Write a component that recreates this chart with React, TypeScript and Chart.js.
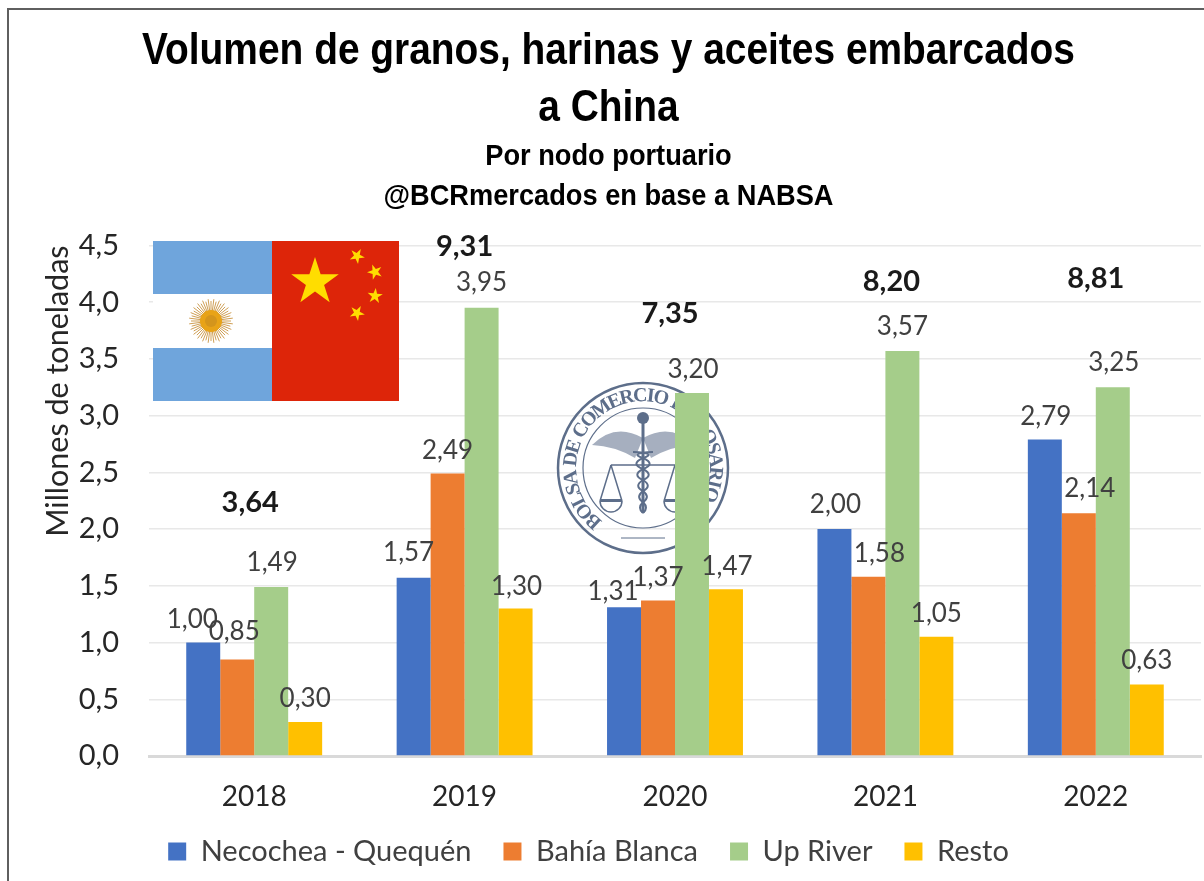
import React, { useEffect, useRef } from "react";
import { Chart, registerables } from "chart.js";

Chart.register(...registerables);

const years = ["2018", "2019", "2020", "2021", "2022"];
const necochea = [1.0, 1.57, 1.31, 2.0, 2.79];
const bahia = [0.85, 2.49, 1.37, 1.58, 2.14];
const upRiver = [1.49, 3.95, 3.2, 3.57, 3.25];
const resto = [0.3, 1.3, 1.47, 1.05, 0.63];
const totals = [3.64, 9.31, 7.35, 8.2, 8.81];
const totalLabelLevels = [2.23, 4.49, 3.9, 4.18, 4.21];
const titleLines = ["Volumen de granos, harinas y aceites embarcados", "a China"];
const subtitleLines = ["Por nodo portuario", "@BCRmercados en base a NABSA"];
const labelShiftX = [
  [-11, -5, -11, 1, 1],
  [-3, 0, 0, 11, 11],
  [1, 0, 1, 0, 1],
  [0, 1, 1, 0, 0],
];
const labelShiftY = [
  [0, -2, 7, -1, 0],
  [-5, 0, 0, 0, -2],
  [-1, -2, 0, -1, -2],
  [0, 1, 0, 0, -1],
];
const totalShiftX = [-4, 0, -5, 6, 0];

const comma = (v: number) => v.toFixed(2).replace(".", ",");
const LABEL = "Lato";
const HEAD = "'Liberation Sans'";

function star(ctx: CanvasRenderingContext2D, x: number, y: number, r: number, rot = 0) {
  ctx.beginPath();
  for (let i = 0; i < 10; i++) {
    const a = -Math.PI / 2 + rot + (i * Math.PI) / 5;
    const rr = i % 2 === 0 ? r : r * 0.382;
    ctx.lineTo(x + Math.cos(a) * rr, y + Math.sin(a) * rr);
  }
  ctx.closePath();
  ctx.fill();
}

function drawFlags(ctx: CanvasRenderingContext2D) {
  ctx.save();
  ctx.fillStyle = "#ffffff";
  ctx.fillRect(153, 241, 119, 160);
  ctx.fillStyle = "#6fa5dc";
  ctx.fillRect(153, 241, 119, 53);
  ctx.fillRect(153, 348, 119, 53);
  ctx.strokeStyle = "#cf9f55";
  ctx.lineWidth = 1;
  for (let i = 0; i < 48; i++) {
    const a = (i * Math.PI) / 24;
    const r = i % 2 ? 22 : 20;
    ctx.beginPath();
    ctx.moveTo(211 + Math.cos(a) * 10, 321 + Math.sin(a) * 10);
    ctx.lineTo(211 + Math.cos(a) * r, 321 + Math.sin(a) * r);
    ctx.stroke();
  }
  ctx.fillStyle = "#e8a317";
  ctx.beginPath();
  ctx.arc(211, 321, 11, 0, Math.PI * 2);
  ctx.fill();
  ctx.fillStyle = "#d4951c";
  ctx.beginPath();
  ctx.arc(211, 321, 6, 0, Math.PI * 2);
  ctx.fill();
  ctx.fillStyle = "#dd2509";
  ctx.fillRect(272, 241, 127, 160);
  ctx.fillStyle = "#ffdd00";
  star(ctx, 315, 282, 25);
  star(ctx, 357, 256, 8, 0.5);
  star(ctx, 375, 272, 8, 0.9);
  star(ctx, 375, 296, 8, 0.1);
  star(ctx, 357, 313, 8, 0.5);
  ctx.restore();
}

function drawSeal(ctx: CanvasRenderingContext2D) {
  const cx = 643;
  const cy = 468;
  const ink = "#5d6e8a";
  ctx.save();
  ctx.strokeStyle = ink;
  ctx.fillStyle = ink;
  ctx.lineWidth = 2.5;
  ctx.beginPath();
  ctx.arc(cx, cy, 85, 0, Math.PI * 2);
  ctx.stroke();
  ctx.lineWidth = 1.2;
  ctx.beginPath();
  ctx.arc(cx, cy, 60, 0, Math.PI * 2);
  ctx.stroke();
  const text = "BOLSA DE COMERCIO DE ROSARIO";
  ctx.font = "bold 20px 'Liberation Serif'";
  ctx.textAlign = "center";
  ctx.textBaseline = "middle";
  const widths = Array.from(text).map((ch) => ctx.measureText(ch).width);
  const total = widths.reduce((a, b) => a + b, 0);
  const span = Math.PI * 1.44;
  let run = 0;
  for (let i = 0; i < text.length; i++) {
    const a = -Math.PI * 1.289 + ((run + widths[i] / 2) / total) * span;
    run += widths[i];
    ctx.save();
    ctx.translate(cx + Math.cos(a) * 72, cy + Math.sin(a) * 72);
    ctx.rotate(a + Math.PI / 2);
    ctx.fillText(text[i], 0, 0);
    ctx.restore();
  }
  ctx.lineWidth = 1.5;
  for (const s of [-1, 1]) {
    ctx.beginPath();
    ctx.moveTo(cx, cy - 30);
    ctx.quadraticCurveTo(cx + s * 28, cy - 46, cx + s * 51, cy - 23);
    ctx.quadraticCurveTo(cx + s * 28, cy - 22, cx + s * 8, cy - 10);
    ctx.closePath();
    ctx.globalAlpha = 0.55;
    ctx.fill();
    ctx.globalAlpha = 1;
    ctx.beginPath();
    ctx.moveTo(cx, cy - 3);
    ctx.lineTo(cx + s * 32, cy - 3);
    ctx.moveTo(cx + s * 32, cy - 3);
    ctx.lineTo(cx + s * 21, cy + 33);
    ctx.moveTo(cx + s * 32, cy - 3);
    ctx.lineTo(cx + s * 43, cy + 33);
    ctx.stroke();
    ctx.beginPath();
    ctx.arc(cx + s * 32, cy + 33, 11, 0, Math.PI);
    ctx.stroke();
    ctx.fillRect(cx + s * 32 - 11, cy + 31, 22, 3);
  }
  ctx.lineWidth = 3;
  ctx.beginPath();
  ctx.moveTo(cx, cy - 48);
  ctx.lineTo(cx, cy + 45);
  ctx.stroke();
  ctx.beginPath();
  ctx.arc(cx, cy - 50, 6, 0, Math.PI * 2);
  ctx.fill();
  ctx.lineWidth = 2;
  for (const s of [-1, 1]) {
    ctx.beginPath();
    ctx.moveTo(cx + s * 10, cy - 16);
    for (let i = 0; i <= 5; i++) {
      const y = cy - 10 + i * 11;
      const w = (i % 2 ? 1 : -1) * s * (15 - i * 1.8);
      ctx.quadraticCurveTo(cx + w, y - 5, cx, y);
    }
    ctx.stroke();
  }
  ctx.lineWidth = 1;
  ctx.beginPath();
  ctx.moveTo(cx - 22, cy + 70);
  ctx.lineTo(cx + 22, cy + 70);
  ctx.stroke();
  ctx.restore();
}

// The headings are a condensed face in the reference: squeeze a Title block to a target width.
function condense(chart: any, block: any, targetWidth: number) {
  if (!block || block.__condensed) return;
  block.__condensed = true;
  const original = block.draw;
  block.draw = function (...args: any[]) {
    const ctx = chart.ctx as CanvasRenderingContext2D;
    const f = block.options.font;
    ctx.save();
    ctx.font = `${f.weight} ${f.size}px ${f.family}`;
    const widest = Math.max(...block.options.text.map((t: string) => ctx.measureText(t).width));
    const k = targetWidth / widest;
    const cx = (block.left + block.right) / 2;
    ctx.translate(cx, 0);
    ctx.scale(k, 1);
    ctx.translate(-cx, 0);
    original.apply(block, args);
    ctx.restore();
  };
}

const artworkPlugin = {
  id: "artwork",
  afterLayout(chart: any) {
    chart.legend.left -= 20;
    chart.legend.right -= 20;
    // tick labels hang lower than the squeezed x-axis box; widen the box they are clipped to
    chart.scales.x.bottom += 20;
    const heads = chart.boxes.filter((b: any) => b.options && Array.isArray(b.options.text));
    condense(chart, heads.find((b: any) => b.options.text[0] === titleLines[0]), 933);
    condense(chart, heads.find((b: any) => b.options.text[0] === subtitleLines[0]), 450);
  },
  beforeDraw(chart: any) {
    const ctx = chart.ctx as CanvasRenderingContext2D;
    ctx.save();
    ctx.fillStyle = "#ffffff";
    ctx.fillRect(0, 0, chart.width, chart.height);
    ctx.strokeStyle = "#5f5f5f";
    ctx.lineWidth = 2;
    ctx.beginPath();
    ctx.moveTo(8, chart.height);
    ctx.lineTo(8, 9);
    ctx.lineTo(chart.width, 9);
    ctx.stroke();
    ctx.restore();
  },
  beforeDatasetsDraw(chart: any) {
    const ctx = chart.ctx as CanvasRenderingContext2D;
    drawSeal(ctx);
    drawFlags(ctx);
  },
  afterDatasetsDraw(chart: any) {
    const ctx = chart.ctx as CanvasRenderingContext2D;
    ctx.save();
    ctx.textAlign = "center";
    ctx.textBaseline = "middle";
    ctx.font = `26px ${LABEL}`;
    ctx.fillStyle = "#404040";
    chart.data.datasets.forEach((ds: any, si: number) => {
      chart.getDatasetMeta(si).data.forEach((bar: any, i: number) => {
        ctx.fillText(comma(ds.data[i]), bar.x + labelShiftX[si][i], bar.y - 23 + labelShiftY[si][i]);
      });
    });
    ctx.font = `bold 29px ${LABEL}`;
    ctx.fillStyle = "#1a1a1a";
    const xs = chart.scales.x;
    const ys = chart.scales.y;
    totals.forEach((t, i) => {
      ctx.fillText(comma(t), xs.getPixelForValue(i) + totalShiftX[i], ys.getPixelForValue(totalLabelLevels[i]));
    });
    ctx.restore();
  },
};

export default function App() {
  const ref = useRef<HTMLCanvasElement>(null);
  useEffect(() => {
    document.body.style.margin = "0";
    const series = [
      ["Necochea - Quequén", necochea, "#4472c4"],
      ["Bahía Blanca", bahia, "#ed7d31"],
      ["Up River", upRiver, "#a5cd8a"],
      ["Resto", resto, "#ffc000"],
    ] as const;
    const chart = new Chart(ref.current!, {
      type: "bar",
      data: {
        labels: years,
        datasets: series.map(([label, data, color]) => ({
          label,
          data: [...data],
          backgroundColor: color,
          borderWidth: 0,
          barPercentage: 1,
          categoryPercentage: 0.646,
        })),
      },
      plugins: [artworkPlugin],
      options: {
        animation: false,
        responsive: false,
        layout: { padding: { left: 16, right: 3, top: 24, bottom: 5 } },
        plugins: {
          title: {
            display: true,
            text: titleLines,
            color: "#000000",
            font: { family: HEAD, size: 44, weight: "bold", lineHeight: 1.28 },
            padding: { top: 0, bottom: 0 },
          },
          subtitle: {
            display: true,
            text: subtitleLines,
            color: "#000000",
            font: { family: HEAD, size: 30, weight: "bold", lineHeight: 1.33 },
            padding: { top: 0, bottom: 29 },
          },
          legend: {
            position: "bottom",
            labels: {
              color: "#404040",
              font: { family: LABEL, size: 29 },
              boxWidth: 18,
              boxHeight: 18,
              padding: 32,
            },
          },
          tooltip: { enabled: false },
        },
        scales: {
          x: {
            afterFit(scale: any) {
              scale.height = 49;
            },
            grid: { display: false },
            border: { color: "#d9d9d9", width: 3 },
            ticks: { color: "#262626", font: { family: LABEL, size: 28 }, padding: 16 },
          },
          y: {
            min: 0,
            max: 4.5,
            afterFit(scale: any) {
              scale.width = 133;
            },
            grid: { color: "#e8e8e8", lineWidth: 1.5, drawTicks: false },
            border: { display: false },
            title: {
              display: true,
              text: "Millones de toneladas",
              align: "end",
              color: "#262626",
              font: { family: LABEL, size: 30.5 },
              padding: { top: 24, bottom: 0 },
            },
            ticks: {
              stepSize: 0.5,
              color: "#262626",
              font: { family: LABEL, size: 29 },
              padding: 30,
              callback: (v: any) => Number(v).toFixed(1).replace(".", ","),
            },
          },
        },
      },
    } as any);
    return () => chart.destroy();
  }, []);
  return <canvas ref={ref} width={1204} height={881} style={{ display: "block" }} />;
}
